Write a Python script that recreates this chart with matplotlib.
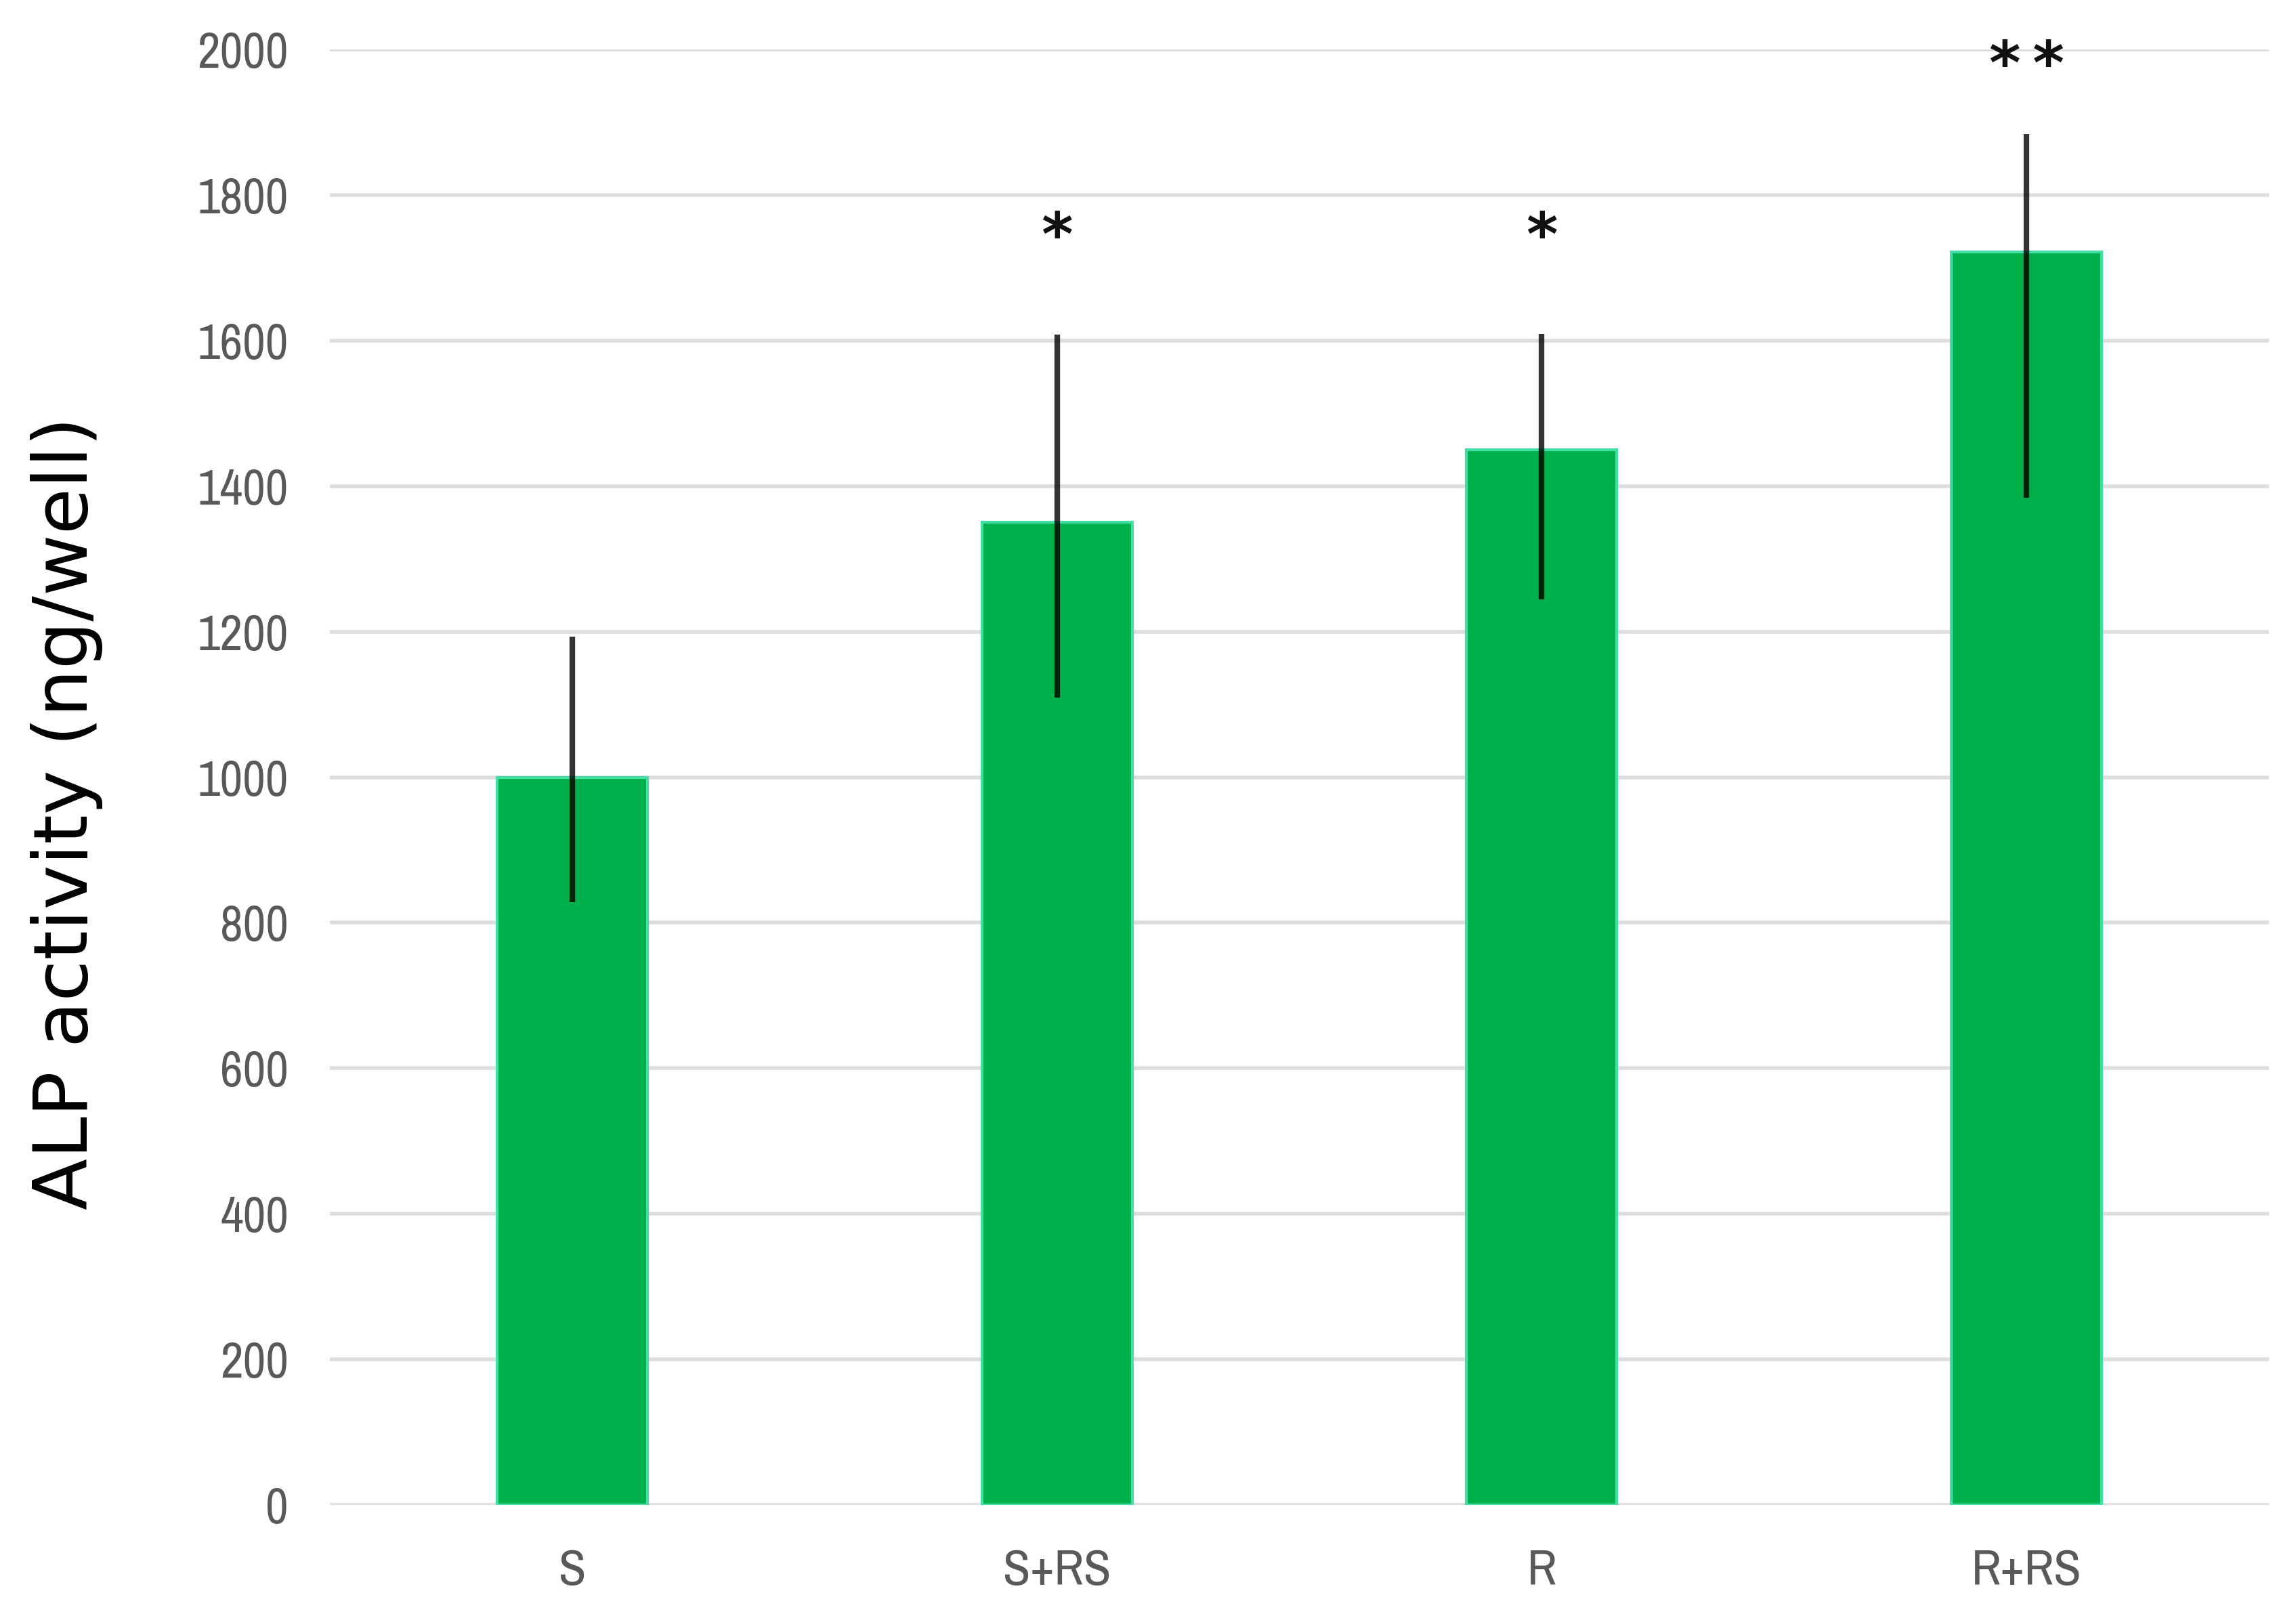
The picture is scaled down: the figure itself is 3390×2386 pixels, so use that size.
import matplotlib
matplotlib.use("Agg")
import matplotlib.pyplot as plt
from matplotlib import font_manager
import numpy as np

# Data
groups = ["S", "S+RS", "R", "R+RS"]
alp_mean = [1000, 1350, 1450, 1722]
err_low = [172, 241, 206, 338]
err_high = [193, 258, 159, 162]
stars = ["", "*", "*", "*\u2009*"]
star_y = [0, 1740, 1740, 1975]
yticks = [0, 200, 400, 600, 800, 1000, 1200, 1400, 1600, 1800, 2000]

# look for a narrow face for the tick labels (Excel style Calibri look)
names = set(f.name for f in font_manager.fontManager.ttflist)
narrow = [n for n in names if "Narrow" in n or "Condensed" in n]
if narrow:
    tick_font = [sorted(narrow)[0], "DejaVu Sans"]
    tick_size = 53
else:
    tick_font = ["Roboto", "DejaVu Sans"]
    tick_size = 42

fig = plt.figure(figsize=(33.9, 23.86), dpi=100)
ax = fig.add_axes([0.1437, 0.0687, 0.8445, 0.9007])

x = np.arange(len(groups))

ax.set_axisbelow(True)
ax.yaxis.grid(True, color="#dedede", linewidth=4)

ax.bar(x, alp_mean, width=0.31, color="#00b04a",
       edgecolor="#45dfa6", linewidth=3, zorder=2)
ax.errorbar(x, alp_mean, yerr=[err_low, err_high], fmt="none",
            ecolor="black", alpha=0.8, elinewidth=6, capsize=0, zorder=3)

# significance marks
for xi, s, sy in zip(x, stars, star_y):
    if s:
        ax.text(xi, sy, s, ha="center", va="center", fontsize=64,
                fontweight="bold", color="#111111", clip_on=False)

ax.set_xlim(-0.5, 3.5)
ax.set_ylim(0, 2000)
ax.set_yticks(yticks)
ax.set_xticks(x)
ax.set_xticklabels(groups)

for lab in ax.get_yticklabels() + ax.get_xticklabels():
    lab.set_family(tick_font)
    lab.set_fontsize(tick_size)
    lab.set_color("#595959")
ax.tick_params(axis="y", length=0, pad=44)
ax.tick_params(axis="x", length=0, pad=46)

for side in ["top", "right", "left", "bottom"]:
    ax.spines[side].set_visible(False)

fig.text(0.029, 0.497, "ALP activity (ng/well)", rotation=90,
         ha="center", va="center", fontsize=80, color="black")

fig.savefig("out.png", dpi=100, facecolor="white")
